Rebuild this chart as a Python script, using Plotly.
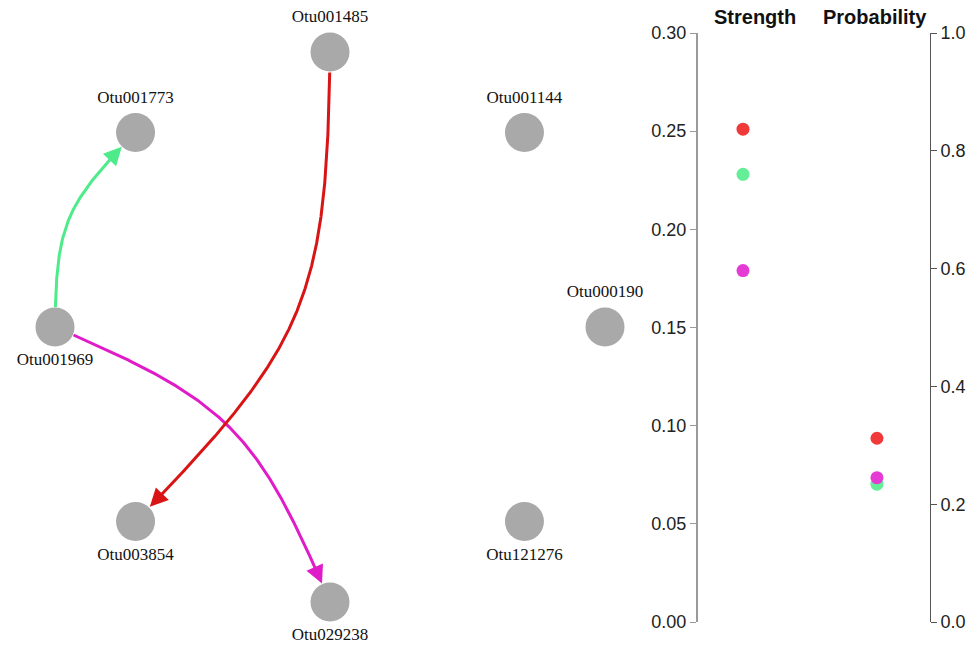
import numpy as np
import plotly.graph_objects as go

# ---------------- data ----------------
nodes = ["Otu000190", "Otu001144", "Otu001485", "Otu001773",
         "Otu001969", "Otu003854", "Otu029238", "Otu121276"]
node_angles_deg = [0, 45, 90, 135, 180, 225, 270, 315]
label_pos = ["top center", "top center", "top center", "top center",
             "bottom center", "bottom center", "bottom center", "bottom center"]

edge_from = ["Otu001969", "Otu001485", "Otu001969"]
edge_to = ["Otu001773", "Otu003854", "Otu029238"]
edge_colors = ["#4DEB8A", "#D81414", "#E01BC8"]
dot_colors = ["#63EE97", "#F03A3A", "#E63AD4"]

strength = [0.228, 0.251, 0.179]
probability = [0.234, 0.312, 0.245]

metrics = ["Strength", "Probability"]
strength_ticks = [0.00, 0.05, 0.10, 0.15, 0.20, 0.25, 0.30]
prob_ticks = [0.0, 0.2, 0.4, 0.6, 0.8, 1.0]

# ---------------- layout helpers ----------------
W, H = 977, 648
ML, MR, MT, MB = 0, 0, 33, 26
curvature = 0.2
hug = 0.9
node_r = 19.5 / 275.0  # node radius in data units

pos = {n: (np.cos(np.radians(a)), np.sin(np.radians(a)))
       for n, a in zip(nodes, node_angles_deg)}

fig = go.Figure()


def cubic(p0, c1, c2, p3, t):
    t = t[:, None]
    return ((1 - t) ** 3 * p0 + 3 * (1 - t) ** 2 * t * c1
            + 3 * (1 - t) * t ** 2 * c2 + t ** 3 * p3)


draw_order = [0, 2, 1]
for i in draw_order:
    p0 = np.array(pos[edge_from[i]])
    p2 = np.array(pos[edge_to[i]])
    d = p2 - p0
    L = np.hypot(*d)
    n = np.array([-d[1], d[0]]) / L
    c = (p0 + p2) / 2 + curvature * L * n
    c1 = p0 + hug * (c - p0)
    c2 = p2 + hug * (c - p2)
    t = np.linspace(0, 1, 600)
    pts = cubic(p0, c1, c2, p2, t)
    d0 = np.hypot(*(pts - p0).T)
    d2 = np.hypot(*(pts - p2).T)
    keep = (d0 >= node_r) & (d2 >= node_r)
    seg = pts[keep]
    tip = seg[-1]
    dist_tip = np.hypot(*(seg - tip).T)
    tail = seg[np.where(dist_tip >= 15 / 275.0)[0][-1]]
    line_end_idx = np.where(dist_tip >= 6 / 275.0)[0][-1]
    fig.add_trace(go.Scatter(
        x=seg[:line_end_idx + 1, 0], y=seg[:line_end_idx + 1, 1],
        mode="lines", line=dict(color=edge_colors[i], width=3),
        hoverinfo="skip", xaxis="x", yaxis="y"))
    fig.add_annotation(
        x=tip[0], y=tip[1], ax=tail[0], ay=tail[1],
        xref="x", yref="y", axref="x", ayref="y",
        text="", showarrow=True, arrowhead=2, arrowsize=1.2,
        arrowwidth=3, arrowcolor=edge_colors[i], standoff=0, startstandoff=0)

# nodes
fig.add_trace(go.Scatter(
    x=[pos[n][0] for n in nodes], y=[pos[n][1] for n in nodes],
    mode="markers+text", text=nodes, textposition=label_pos,
    textfont=dict(family="Liberation Serif", size=17, color="#111"),
    marker=dict(size=39, color="#A9A9A9", line=dict(width=0)),
    cliponaxis=False, hoverinfo="text", xaxis="x", yaxis="y"))

# strength dots
for i in range(len(strength)):
    fig.add_trace(go.Scatter(
        x=[metrics[0]], y=[strength[i]], mode="markers",
        marker=dict(size=13, color=dot_colors[i]),
        xaxis="x2", yaxis="y2", cliponaxis=False))
# probability dots
for i in range(len(probability)):
    fig.add_trace(go.Scatter(
        x=[metrics[1]], y=[probability[i]], mode="markers",
        marker=dict(size=13, color=dot_colors[i]),
        xaxis="x2", yaxis="y3", cliponaxis=False))

fig.update_layout(
    width=W, height=H, autosize=False,
    margin=dict(l=ML, r=MR, t=MT, b=MB),
    paper_bgcolor="white", plot_bgcolor="white",
    showlegend=False,
    xaxis=dict(domain=[0, 660 / W], range=[-1.2, 1.2], visible=False, fixedrange=True),
    yaxis=dict(domain=[0, 1], range=[-(622 - 327) / 275.0, (327 - 33) / 275.0],
               visible=False, fixedrange=True),
    xaxis2=dict(domain=[698 / W, 930 / W], type="category",
                categoryorder="array", categoryarray=metrics,
                range=[-0.336, 1.396], visible=False, anchor="y2"),
    yaxis2=dict(anchor="x2", domain=[0, 1], range=[0, 0.30], side="left",
                showline=True, linecolor="#9A9A9A", linewidth=2,
                ticks="outside", ticklen=6, tickwidth=1, tickcolor="#9A9A9A",
                tickvals=strength_ticks, tickformat=".2f",
                showgrid=False, zeroline=False,
                tickfont=dict(family="Liberation Sans", size=18, color="#222")),
    yaxis3=dict(anchor="x2", overlaying="y2", range=[0, 1], side="right",
                showline=True, linecolor="#555555", linewidth=1,
                ticks="outside", ticklen=6, tickwidth=1, tickcolor="#555555",
                tickvals=prob_ticks, tickformat=".1f",
                showgrid=False, zeroline=False,
                tickfont=dict(family="Liberation Sans", size=18, color="#222")),
)

title_x = [755 / W, 875 / W]
for m, xp in zip(metrics, title_x):
    fig.add_annotation(x=xp, y=1 + 16 / 589.0, xref="paper", yref="paper",
                       text="<b>" + m + "</b>", showarrow=False,
                       xanchor="center", yanchor="middle",
                       font=dict(family="Liberation Sans", size=20, color="#111"))

fig.write_html("out.html", config={"displayModeBar": False},
               post_script="document.body.style.margin='0px';document.body.style.overflow='hidden';")
